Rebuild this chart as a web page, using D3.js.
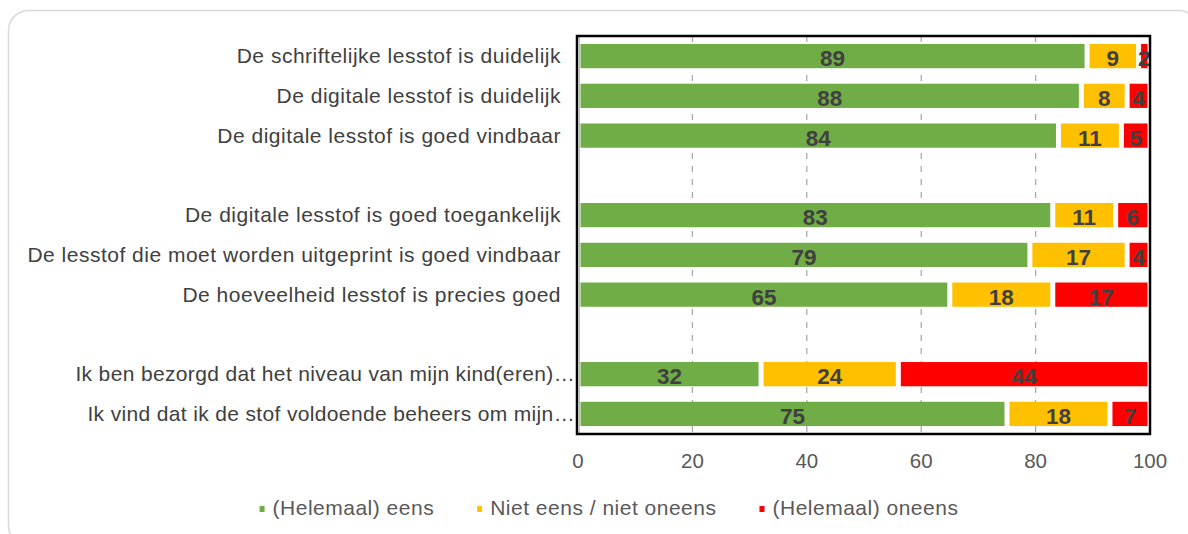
<!DOCTYPE html>
<html>
<head>
<meta charset="utf-8">
<script src="https://cdn.jsdelivr.net/npm/d3@7"></script>
<style>
  body { margin: 0; background: #fff; }
  text { font-family: "Liberation Sans", Arial, sans-serif; }
</style>
</head>
<body>
<svg id="chart" width="1188" height="534"></svg>
<script>
// rows of the chart, "" marks an empty spacer row between groups
var categories = [
	"De schriftelijke lesstof is duidelijk",
	"De digitale lesstof is duidelijk",
	"De digitale lesstof is goed vindbaar",
	"",
	"De digitale lesstof is goed toegankelijk",
	"De lesstof die moet worden uitgeprint is goed vindbaar",
	"De hoeveelheid lesstof is precies goed",
	"",
	"Ik ben bezorgd dat het niveau van mijn kind(eren)…",
	"Ik vind dat ik de stof voldoende beheers om mijn…"
];
var eens    = [89, 88, 84, null, 83, 79, 65, null, 32, 75];
var neutraal = [9, 8, 11, null, 11, 17, 18, null, 24, 18];
var oneens  = [2, 4, 5, null, 6, 4, 17, null, 44, 7];

var seriesNames = ["(Helemaal) eens", "Niet eens / niet oneens", "(Helemaal) oneens"];
var seriesColors = ["#70AD47", "#FFC000", "#FF0000"];
var xTicks = [0, 20, 40, 60, 80, 100];

var svg = d3.select("#chart");

// outer rounded frame
svg.append("rect")
	.attr("x", 8.5).attr("y", 10.5)
	.attr("width", 1190).attr("height", 535)
	.attr("rx", 20)
	.attr("fill", "#fff")
	.attr("stroke", "#d9d9d9")
	.attr("stroke-width", 1.5);

var plot = { left: 578, right: 1150, top: 36, bottom: 434 };

var x = d3.scaleLinear().domain([0, 100]).range([plot.left, plot.right]);
var y = d3.scaleBand()
	.domain(d3.range(categories.length))
	.range([plot.top, plot.bottom])
	.paddingInner(0.39)
	.paddingOuter(0.2);

// dashed gridlines
svg.append("g")
	.selectAll("line")
	.data(xTicks.filter(function (d) { return d > 0 && d < 100; }))
	.join("line")
	.attr("x1", function (d) { return x(d); })
	.attr("x2", function (d) { return x(d); })
	.attr("y1", plot.top)
	.attr("y2", plot.bottom)
	.attr("stroke", "#a6a6a6")
	.attr("stroke-width", 1.2)
	.attr("stroke-dasharray", "6,7");

// build stacked rows
var rows = categories.map(function (c, i) {
	return { i: i, label: c, vals: [eens[i], neutraal[i], oneens[i]] };
}).filter(function (r) { return r.vals[0] !== null; });

var segs = [];
rows.forEach(function (r) {
	var acc = 0;
	r.vals.forEach(function (v, k) {
		segs.push({ i: r.i, k: k, v: v, x0: acc, x1: acc + v });
		acc += v;
	});
});

var inset = 2.5;
svg.append("g")
	.selectAll("rect")
	.data(segs)
	.join("rect")
	.attr("x", function (d) { return x(d.x0) + inset; })
	.attr("width", function (d) { return Math.max(1, x(d.x1) - x(d.x0) - 2 * inset); })
	.attr("y", function (d) { return y(d.i); })
	.attr("height", y.bandwidth())
	.attr("fill", function (d) { return seriesColors[d.k]; });

// value labels
svg.append("g")
	.selectAll("text")
	.data(segs)
	.join("text")
	.attr("x", function (d) { return (x(d.x0) + x(d.x1)) / 2; })
	.attr("y", function (d) { return y(d.i) + y.bandwidth() / 2 + 10; })
	.attr("text-anchor", "middle")
	.attr("font-size", 22.5)
	.attr("font-weight", "bold")
	.attr("fill", "#404040")
	.text(function (d) { return d.v; });

// category axis line
svg.append("line")
	.attr("x1", plot.left + 1.5).attr("x2", plot.left + 1.5)
	.attr("y1", plot.top).attr("y2", plot.bottom)
	.attr("stroke", "#bfbfbf");

// plot frame
svg.append("rect")
	.attr("x", plot.left - 1).attr("y", plot.top)
	.attr("width", plot.right - plot.left + 1)
	.attr("height", plot.bottom - plot.top)
	.attr("fill", "none")
	.attr("stroke", "#000")
	.attr("stroke-width", 2.5);

// category labels
svg.append("g")
	.selectAll("text")
	.data(rows)
	.join("text")
	.attr("x", function (d) { return /…$/.test(d.label) ? plot.left - 3 : plot.left - 17; })
	.attr("y", function (d) { return y(d.i) + y.bandwidth() / 2 + 7; })
	.attr("text-anchor", "end")
	.attr("font-size", 21)
	.attr("letter-spacing", function (d) { return /…$/.test(d.label) ? 0.35 : 0.5; })
	.attr("fill", "#404040")
	.text(function (d) { return d.label; });

// x axis tick labels
svg.append("g")
	.selectAll("text")
	.data(xTicks)
	.join("text")
	.attr("x", function (d) { return x(d); })
	.attr("y", 468)
	.attr("text-anchor", "middle")
	.attr("font-size", 20.5)
	.attr("fill", "#595959")
	.text(function (d) { return d; });

// legend
var legend = svg.append("g");
var items = legend.selectAll("g")
	.data(seriesNames)
	.join("g");
items.append("rect")
	.attr("width", 5).attr("height", 6)
	.attr("y", -9)
	.attr("fill", function (d, k) { return seriesColors[k]; });
items.append("text")
	.attr("x", 13)
	.attr("font-size", 21)
	.attr("letter-spacing", 0.5)
	.attr("fill", "#595959")
	.text(function (d) { return d; });

var lx = 0;
items.each(function () {
	d3.select(this).attr("transform", "translate(" + lx + ",0)");
	lx += 13 + d3.select(this).select("text").node().getComputedTextLength() + 43;
});
var legendWidth = lx - 43;
legend.attr("transform", "translate(" + (609 - legendWidth / 2) + ",515)");
</script>
</body>
</html>
